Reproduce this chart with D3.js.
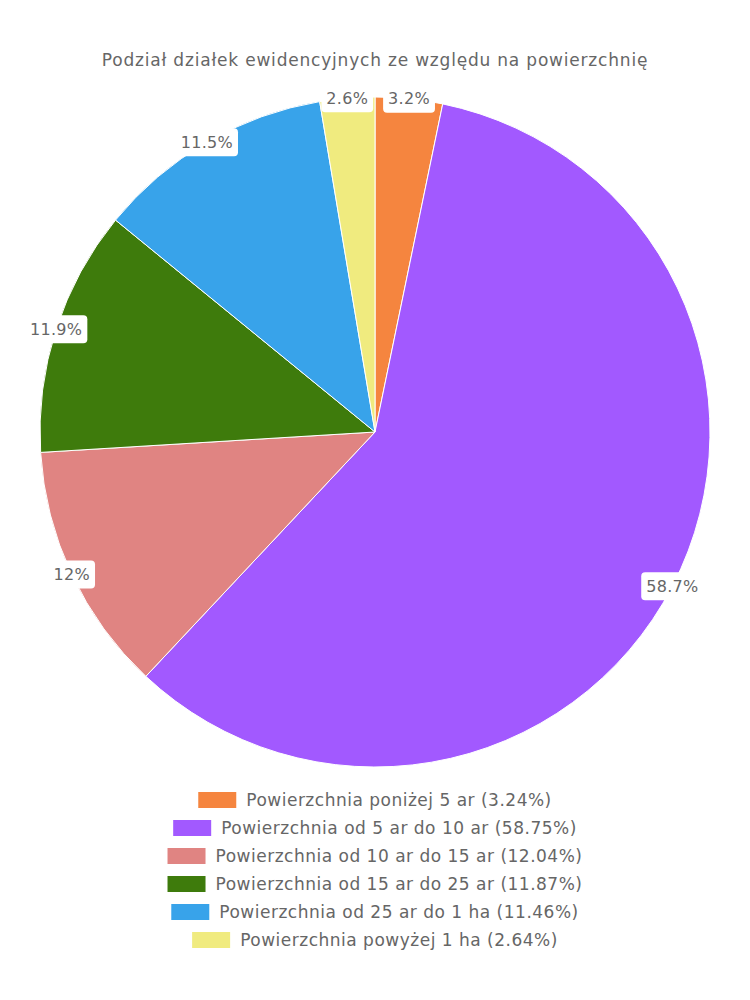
<!DOCTYPE html>
<html>
<head>
<meta charset="utf-8">
<script src="https://cdn.jsdelivr.net/npm/d3@7"></script>
<style>
  body { margin: 0; background: #fff; }
  svg { font-family: "DejaVu Sans", sans-serif; }
</style>
</head>
<body>
<div id="chart"></div>
<script>
// chart data
const categories = [
  "Powierzchnia poniżej 5 ar",
  "Powierzchnia od 5 ar do 10 ar",
  "Powierzchnia od 10 ar do 15 ar",
  "Powierzchnia od 15 ar do 25 ar",
  "Powierzchnia od 25 ar do 1 ha",
  "Powierzchnia powyżej 1 ha"
];
const shares = [3.24, 58.75, 12.04, 11.87, 11.46, 2.64];
const sliceLabels = ["3.2%", "58.7%", "12%", "11.9%", "11.5%", "2.6%"];
const colors = ["#f5853f", "#a259ff", "#e08482", "#3e7b0c", "#38a3ea", "#f0eb7f"];
const title = "Podział działek ewidencyjnych ze względu na powierzchnię";

const width = 750, height = 1000;
const cx = 375, cy = 432, radius = 335;

const svg = d3.select("#chart").append("svg")
  .attr("width", width)
  .attr("height", height);

svg.append("text")
  .attr("x", width / 2)
  .attr("y", 66)
  .attr("text-anchor", "middle")
  .attr("fill", "#666")
  .style("font-size", "17px")
  .style("letter-spacing", "0.8px")
  .text(title);

const pie = d3.pie().sort(null).value(d => d);
const arcs = pie(shares);
const arc = d3.arc().innerRadius(0).outerRadius(radius);

const g = svg.append("g")
  .attr("transform", "translate(" + cx + "," + cy + ")");

g.selectAll("path")
  .data(arcs)
  .join("path")
    .attr("d", arc)
    .attr("fill", (d, i) => colors[i])
    .attr("stroke", "#fff")
    .attr("stroke-width", 1);

// labels sit on the outer edge
const labelArc = d3.arc().innerRadius(radius).outerRadius(radius);
const lab = g.selectAll("g.lab")
  .data(arcs)
  .join("g")
    .attr("class", "lab")
    .attr("transform", d => "translate(" + labelArc.centroid(d) + ")");

const rects = lab.append("rect")
  .attr("fill", "#fff")
  .attr("rx", 4);

const texts = lab.append("text")
  .attr("text-anchor", "middle")
  .attr("dy", "0.35em")
  .attr("fill", "#666")
  .style("font-size", "16px")
  .style("letter-spacing", "0.3px")
  .text((d, i) => sliceLabels[i]);

texts.each(function(d, i) {
  const w = this.getComputedTextLength();
  d3.select(rects.nodes()[i])
    .attr("x", -w / 2 - 5)
    .attr("y", -14)
    .attr("width", w + 10)
    .attr("height", 28);
});

// legend, each row centered
const legendTop = 800, rowH = 28;
const legend = svg.append("g");
categories.forEach((c, i) => {
  const row = legend.append("g");
  const t = row.append("text")
    .attr("y", legendTop + i * rowH)
    .attr("dy", "0.35em")
    .attr("fill", "#666")
    .style("font-size", "17px")
    .style("letter-spacing", "0.5px")
    .text(c + " (" + shares[i].toFixed(2) + "%)");
  const tw = t.node().getComputedTextLength();
  const sw = 38, gap = 10;
  const x0 = width / 2 - (sw + gap + tw) / 2;
  row.append("rect")
    .attr("x", x0)
    .attr("y", legendTop + i * rowH - 8)
    .attr("width", sw)
    .attr("height", 16)
    .attr("fill", colors[i]);
  t.attr("x", x0 + sw + gap);
});
</script>
</body>
</html>
